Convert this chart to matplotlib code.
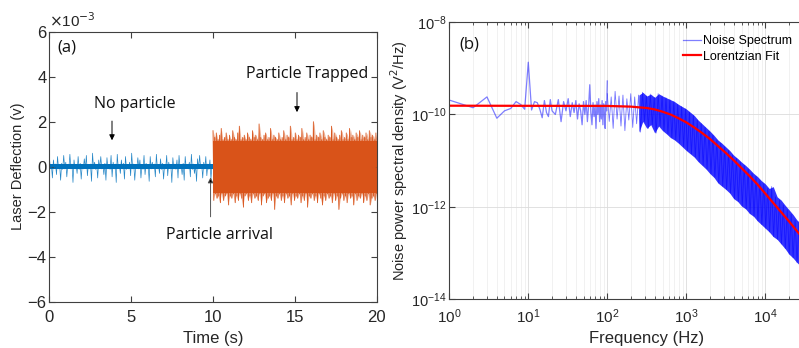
import numpy as np
import matplotlib.pyplot as plt
from matplotlib.ticker import FixedLocator, LogLocator, NullLocator, NullFormatter

# ---- panel (a): laser deflection trace, values in units of 1e-3 V ----
# blue part (0-10 s, no particle): alternating peak / trough samples
blue_up = [0.50, 0.10, 0.30, 0.12, 0.45, 0.10, 0.15, 0.50, 0.20, 0.10,
           0.55, 0.12, 0.30, 0.10, 0.45, 0.15, 0.10, 0.35, 0.50, 0.10,
           0.12, 0.60, 0.20, 0.10, 0.30, 0.45, 0.10, 0.15, 0.40, 0.10,
           0.50, 0.20, 0.12, 0.55, 0.10, 0.30, 0.15, 0.45, 0.10, 0.20,
           0.60, 0.12, 0.10, 0.40, 0.30, 0.10, 0.50, 0.15, 0.10, 0.45,
           0.20, 0.12, 0.55, 0.10, 0.35, 0.15, 0.10, 0.50, 0.20, 0.10,
           0.40, 0.12, 0.30, 0.50, 0.10, 0.15, 0.45, 0.10, 0.20, 0.55,
           0.12, 0.10, 0.35, 0.50, 0.10, 0.20, 0.45, 0.12, 0.30, 0.10]
blue_dn = [-0.10, -0.50, -0.08, -0.35, -0.10, -0.60, -0.12, -0.10, -0.45, -0.08,
           -0.10, -0.70, -0.10, -0.30, -0.12, -0.55, -0.10, -0.08, -0.40, -0.10,
           -0.65, -0.10, -0.12, -0.50, -0.08, -0.10, -0.35, -0.60, -0.10, -0.12,
           -0.45, -0.10, -0.70, -0.08, -0.30, -0.10, -0.55, -0.12, -0.10, -0.40,
           -0.10, -0.60, -0.08, -0.10, -0.50, -0.12, -0.35, -0.10, -0.65, -0.10,
           -0.08, -0.45, -0.10, -0.30, -0.12, -0.55, -0.10, -0.40, -0.08, -0.70,
           -0.10, -0.12, -0.50, -0.10, -0.35, -0.60, -0.08, -0.10, -0.45, -0.12,
           -0.30, -0.65, -0.10, -0.08, -0.50, -0.10, -0.40, -0.12, -0.55, -0.10]
blue_core = (-0.09, 0.13)   # dense central band of the blue trace

# orange part (10-20 s, particle trapped): alternating peaks / troughs
orange_hi = [1.6, 1.3, 1.5, 1.2, 1.4, 1.7, 1.2, 1.3, 1.5, 1.2,
             1.4, 1.2, 1.6, 1.3, 1.2, 1.5, 1.8, 1.2, 1.3, 1.4,
             1.2, 1.5, 1.3, 1.2, 1.6, 1.3, 1.4, 1.2, 1.9, 1.3,
             1.2, 1.4, 1.5, 1.2, 1.3, 1.7, 1.2, 1.4, 1.3, 1.2,
             1.5, 1.2, 1.3, 1.6, 1.2, 1.4, 1.3, 1.8, 1.2, 1.3,
             1.5, 1.2, 1.4, 1.3, 1.7, 1.2, 1.3, 1.5, 1.2, 1.4,
             1.3, 2.0, 1.2, 1.4, 1.3, 1.5, 1.2, 1.6, 1.3, 1.2,
             1.4, 1.3, 1.8, 1.2, 1.5, 1.3, 1.2, 1.4, 1.6, 1.2,
             1.3, 1.5, 1.2, 1.7, 1.3, 1.4, 1.2, 1.5, 1.3, 1.6,
             1.2, 1.4, 1.3, 1.5, 1.2, 1.6, 1.3, 1.4, 1.2, 1.5]
orange_lo = [-1.5, -1.2, -1.4, -1.3, -1.6, -1.2, -1.5, -1.3, -1.2, -1.7,
             -1.3, -1.4, -1.2, -1.6, -1.3, -1.5, -1.2, -1.4, -1.8, -1.3,
             -1.2, -1.5, -1.3, -1.6, -1.2, -1.4, -1.3, -1.5, -1.2, -1.7,
             -1.3, -1.2, -1.6, -1.4, -1.3, -1.5, -1.2, -1.9, -1.3, -1.4,
             -1.2, -1.5, -1.3, -1.6, -1.2, -1.4, -1.3, -1.7, -1.2, -1.5,
             -1.3, -1.4, -1.2, -1.6, -1.3, -1.5, -1.2, -1.8, -1.3, -1.4,
             -1.2, -1.5, -1.3, -1.6, -1.2, -1.4, -1.7, -1.3, -1.5, -1.2,
             -1.4, -1.3, -1.6, -1.2, -1.5, -1.3, -1.9, -1.4, -1.2, -1.5,
             -1.3, -1.6, -1.2, -1.4, -1.3, -1.7, -1.2, -1.5, -1.3, -1.4,
             -1.2, -1.6, -1.3, -1.5, -1.2, -1.7, -1.4, -1.3, -1.5, -1.2]
orange_core = (-1.15, 1.12)  # solid part of the orange band

# ---- panel (b): noise power spectral density ----
# low-frequency bins (Hz) and their PSD in units of 1e-10 V^2/Hz
psd_lo_f = list(range(1, 21)) + list(range(22, 101, 2))
psd_lo_val = [2.05, 1.40, 2.40, 0.83, 1.20, 1.35, 1.90, 1.65, 1.30, 13.5,
              1.25, 1.90, 1.80, 1.30, 0.85, 2.00, 1.10, 0.90, 2.10, 1.20,
              1.00, 2.10, 0.70, 1.90, 1.20, 2.20, 0.90, 1.80, 1.10, 2.00,
              0.80, 1.70, 1.20, 0.60, 1.90, 1.00, 2.00, 0.70, 1.50, 4.40,
              1.10, 0.60, 1.80, 0.90, 1.60, 0.50, 1.90, 1.00, 2.20, 0.70,
              1.60, 0.80, 2.00, 0.60, 1.70, 1.00, 0.50, 1.90, 1.20, 5.30]

# dense part 100 Hz - 40 kHz: log10 of upper / lower edge of the noise band
band_hi_log = [-9.55, -9.62, -9.50, -9.60, -9.58, -9.66, -9.55, -9.62, -9.58, -9.52,
               -9.60, -9.56, -9.63, -9.55, -9.60, -9.64, -9.68, -9.72, -9.78, -9.83,
               -9.88, -9.95, -10.02, -10.12, -10.20, -10.28, -10.36, -10.45, -10.55, -10.62,
               -10.70, -10.78, -10.88, -10.95, -11.03, -11.10, -11.18, -11.27, -11.34, -11.43,
               -11.50, -11.60, -11.56, -11.78, -11.85, -11.96, -12.06, -12.16, -12.28, -12.36,
               -12.48, -12.56, -12.68]
band_lo_log = [-10.15, -10.30, -10.10, -10.25, -10.35, -10.12, -10.28, -10.20, -10.38, -10.15,
               -10.30, -10.22, -10.40, -10.25, -10.35, -10.42, -10.50, -10.55, -10.62, -10.70,
               -10.78, -10.85, -10.92, -11.02, -11.10, -11.18, -11.28, -11.36, -11.48, -11.55,
               -11.62, -11.70, -11.82, -11.88, -11.98, -12.04, -12.14, -12.20, -12.30, -12.38,
               -12.46, -12.54, -12.64, -12.70, -12.80, -12.90, -13.02, -13.10, -13.20, -13.28,
               -13.38, -13.46, -13.56]

# Lorentzian fit: log10(f), log10(PSD)
fit_logf = [0.0, 2.0, 2.3, 2.5, 2.6, 2.7, 2.8, 2.9, 3.0, 3.1, 3.2, 3.3, 3.4,
            3.5, 3.6, 3.7, 3.8, 3.9, 4.0, 4.1, 4.2, 4.3, 4.4, 4.5, 4.6, 5.0]
fit_logS = [-9.81, -9.815, -9.83, -9.86, -9.89, -9.94, -10.00, -10.08, -10.17, -10.28,
            -10.40, -10.53, -10.68, -10.83, -10.99, -11.16, -11.33, -11.51, -11.71, -11.91,
            -12.11, -12.31, -12.52, -12.72, -12.92, -13.72]

plt.rcParams['font.family'] = ['Liberation Sans', 'DejaVu Sans']
txt_col = '#262626'
ann_font = 'Open Sans'

fig = plt.figure(figsize=(7.99, 3.48), dpi=100)

# ---------------- (a) ----------------
ax1 = fig.add_axes([0.0617, 0.133, 0.4098, 0.776])

t_blue = np.linspace(0, 10, 2 * len(blue_up))
y_blue = np.column_stack([blue_up, blue_dn]).ravel()
ax1.plot(t_blue, y_blue, color='#0072BD', lw=0.5, alpha=0.85)
ax1.fill_between([0, 10], blue_core[0], blue_core[1], color='#0072BD', lw=0)

t_env = np.linspace(10, 20, len(orange_hi))
ax1.fill_between(t_env, orange_lo, orange_hi, color='#D95319', alpha=0.45, lw=0)
t_or = np.linspace(10, 20, 2 * len(orange_hi))
y_or = np.column_stack([orange_hi, orange_lo]).ravel()
ax1.plot(t_or, y_or, color='#D95319', lw=0.6)
ax1.fill_between([10, 20], orange_core[0], orange_core[1], color='#D95319', lw=0)

ax1.set_xlim(0, 20)
ax1.set_ylim(-6, 6)
ax1.set_xticks([0, 5, 10, 15, 20])
ax1.set_yticks([-6, -4, -2, 0, 2, 4, 6])
ax1.tick_params(direction='in', top=True, right=True, labelsize=12,
                colors='#404040', labelcolor=txt_col, length=4)
ax1.tick_params(axis='x', pad=6)
ax1.tick_params(axis='y', pad=2)
for s in ax1.spines.values():
    s.set_color('#404040')
    s.set_linewidth(0.8)
ax1.set_xlabel('Time (s)', fontsize=12, color=txt_col, labelpad=4)
ax1.set_ylabel('Laser Deflection (v)', fontsize=10.5, color=txt_col, labelpad=2)
ax1.text(0.0, 1.005, r'$\times$10$^{-3}$', transform=ax1.transAxes,
         ha='left', va='bottom', fontsize=11, color=txt_col)

ax1.text(1.08, 5.3, '(a)', fontsize=12, family=ann_font, ha='center', va='center', color='#111111')
ax1.text(5.25, 2.8, 'No particle', fontsize=11.5, family=ann_font, ha='center', va='center', color='#111111')
ax1.annotate('', xy=(3.83, 1.05), xytext=(3.83, 2.15),
             arrowprops=dict(arrowstyle='-|>', color='black', lw=0.7, mutation_scale=8))
ax1.text(15.77, 4.13, 'Particle Trapped', fontsize=11.5, family=ann_font, ha='center', va='center', color='#111111')
ax1.annotate('', xy=(15.13, 2.3), xytext=(15.13, 3.42),
             arrowprops=dict(arrowstyle='-|>', color='black', lw=0.7, mutation_scale=8))
ax1.text(10.37, -3.02, 'Particle arrival', fontsize=11.5, family=ann_font, ha='center', va='center', color='#111111')
ax1.annotate('', xy=(9.85, -0.35), xytext=(9.85, -2.35),
             arrowprops=dict(arrowstyle='-|>', color='#555555', lw=0.7, mutation_scale=8,
                             fc='black', ec='#555555'))

# ---------------- (b) ----------------
ax2 = fig.add_axes([0.5623, 0.1394, 0.4944, 0.7974])
ax2.set_xscale('log')
ax2.set_yscale('log')

ax2.plot(psd_lo_f, np.array(psd_lo_val) * 1e-10, color='blue', alpha=0.5, lw=0.9,
         label='Noise Spectrum')
band_f = np.logspace(2, 4.6, len(band_hi_log))
solid = band_f >= 250
ax2.fill_between(band_f[solid], 10 ** np.array(band_lo_log)[solid],
                 10 ** np.array(band_hi_log)[solid], color='blue', alpha=0.8, lw=0)
zig_f = np.logspace(2, 4.6, 2 * len(band_hi_log))
zig_y = 10 ** np.column_stack([band_hi_log, band_lo_log]).ravel()
ax2.plot(zig_f, zig_y, color='blue', alpha=0.55, lw=0.6)
ax2.plot(10 ** np.array(fit_logf), 10 ** np.array(fit_logS), color='red', lw=1.6,
         label='Lorentzian Fit')

ax2.set_xlim(1, 1e5)
ax2.set_ylim(1e-14, 1e-8)
ax2.xaxis.set_major_locator(FixedLocator([1, 10, 100, 1e3, 1e4]))
ax2.xaxis.set_minor_locator(LogLocator(base=10, subs=np.arange(2, 10), numticks=20))
ax2.xaxis.set_minor_formatter(NullFormatter())
ax2.yaxis.set_major_locator(FixedLocator([1e-14, 1e-12, 1e-10, 1e-8]))
ax2.yaxis.set_minor_locator(NullLocator())
ax2.grid(True, which='major', color='#dcdcdc', lw=0.6)
ax2.grid(True, which='minor', axis='x', color='#ececec', lw=0.5)
ax2.set_axisbelow(True)
ax2.tick_params(which='both', direction='in', top=True, right=True, labelsize=11,
                colors='#404040', labelcolor=txt_col)
ax2.tick_params(axis='x', which='major', length=4, pad=6)
ax2.tick_params(axis='y', which='major', length=4, pad=2, labelsize=10.5)
ax2.tick_params(which='minor', length=2)
for s in ax2.spines.values():
    s.set_color('#404040')
    s.set_linewidth(0.8)
ax2.set_xlabel('Frequency (Hz)', fontsize=12, color=txt_col, labelpad=3)
ax2.set_ylabel(r'Noise power spectral density (V$^2$/Hz)', fontsize=10.5, color=txt_col, labelpad=1)
ax2.text(0.05, 0.92, '(b)', transform=ax2.transAxes, fontsize=12, family=ann_font,
         ha='center', va='center', color='#111111')
ax2.legend(loc='upper left', bbox_to_anchor=(678 / 799, 1 - 30 / 348),
           bbox_transform=fig.transFigure, frameon=False, fontsize=9,
           handlelength=1.4, handletextpad=0.2, labelspacing=0.3, borderaxespad=0)

fig.savefig('out.png', dpi=100)
